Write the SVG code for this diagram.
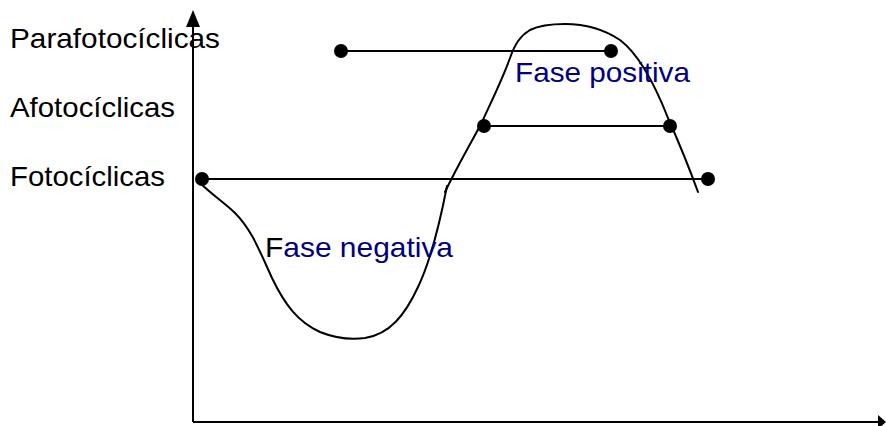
<svg xmlns="http://www.w3.org/2000/svg" width="886" height="426" viewBox="0 0 886 426">
<style>
.lbl{font-family:"Liberation Sans",Arial,sans-serif;font-size:28.5px;fill:#000}
.ph{font-family:"Liberation Sans",Arial,sans-serif;font-size:28.5px;fill:#000080}
.ln{stroke:#000;stroke-width:2;fill:none}
.cv{stroke:#000;stroke-width:2;fill:none;stroke-linecap:round}
.dot{fill:#000}
</style>
<g id="axes">
<path class="ln" d="M193,422 L193,12"/>
<path d="M186,27 L193,10 L200,27 Z" fill="#000"/>
<path class="ln" d="M193,422 L884,422"/>
<path d="M878,415 L886,422 L878,429 Z" fill="#000"/>
</g>
<g id="labels">
<text class="lbl" x="10" y="48" textLength="210" lengthAdjust="spacingAndGlyphs">Parafotocíclicas</text>
<text class="lbl" x="10" y="117" textLength="165" lengthAdjust="spacingAndGlyphs">Afotocíclicas</text>
<text class="lbl" x="10" y="186" textLength="155" lengthAdjust="spacingAndGlyphs">Fotocíclicas</text>
</g>
<g id="curve">
<path class="cv" d="M198,181 C212,195 225,203 235,213 C252,230 260,252 272,278 C285,305 298,322 320,332 C335,338 350,340 365,338 C390,334 405,315 418,287 C430,262 440,222 447,186"/>
<path class="cv" d="M445,192 C458,165 470,145 482,122 C492,100 502,80 510,58 C515,44 520,36 530,30 C540,25 552,24 565,24 C585,24 605,30 620,40 C640,55 655,85 668,118 C680,145 690,170 698,192"/>
</g>
<g id="connectors">
<path class="ln" d="M341,51 L611,51"/>
<path class="ln" d="M484,126 L670,126"/>
<path class="ln" d="M202,179 L708,179"/>
</g>
<g id="dots">
<circle class="dot" cx="341" cy="51" r="7"/>
<circle class="dot" cx="611" cy="51" r="7"/>
<circle class="dot" cx="484" cy="126" r="7"/>
<circle class="dot" cx="670" cy="126" r="7"/>
<circle class="dot" cx="202" cy="179" r="7"/>
<circle class="dot" cx="708" cy="179" r="7"/>
</g>
<g id="phase-labels">
<text class="ph" x="515" y="82" textLength="175" lengthAdjust="spacingAndGlyphs">Fase positiva</text>
<text class="ph" x="265" y="257" textLength="188" lengthAdjust="spacingAndGlyphs"><tspan fill="#000">F</tspan>ase negativa</text>
</g>
</svg>
